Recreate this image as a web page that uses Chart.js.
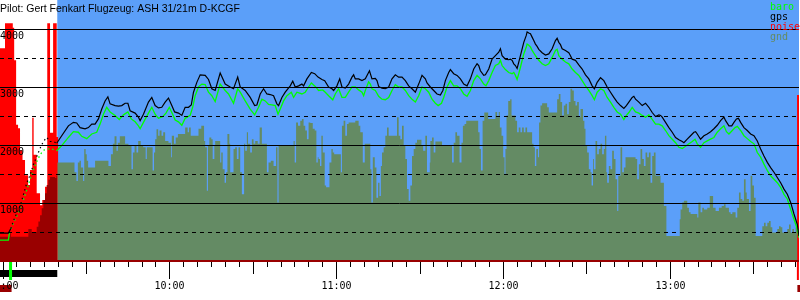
<!DOCTYPE html>
<html>
<head>
<meta charset="utf-8">
<script src="https://cdn.jsdelivr.net/npm/chart.js@4.4.0/dist/chart.umd.min.js"></script>
<style>
    html, body { margin: 0; padding: 0; background: #fff; }
</style>
</head>
<body>
<canvas id="myChart" width="800" height="300"></canvas>
<script>
// Barogram, time in minutes after 9:00, altitude in m
const title = 'Pilot: Gert Fenkart Flugzeug: ASH 31/21m D-KCGF';

const xMin = -0.9, xMax = 286.5;
const motorEnd = 19.7;     // end of engine run, gliding starts
const climbStart = 2.2;
const takeoffT = 2.9;
const landingT = 286.1;

const hourLabels = ['09:00', '10:00', '11:00', '12:00', '13:00'];
const yLabels = [1000, 2000, 3000, 4000];

const gpsT = [-0.9, 2.1, 3.0, 3.9, 5.1, 6.3, 7.5, 8.7, 9.9, 11.1, 12.3, 13.5, 14.7, 15.9, 17.1, 18.3, 19.5,
    21.3, 23.7, 25.5, 26.7, 27.9, 29.7, 30.9, 32.1, 33.3, 34.5, 35.7, 36.9, 37.9, 38.7, 40.5, 41.7, 42.9, 44.1,
    45.1, 45.9, 47.7, 48.9, 49.5, 50.7, 52.5, 53.7, 54.9, 56.1, 57.3, 58.5, 59.7, 60.9, 61.9, 63.3, 64.5, 65.7,
    66.9, 67.9, 68.7, 69.9, 71.1, 72.9,
    74.1, 75.3, 76.5, 78.3, 80.1, 81.9, 83.1, 84.6, 85.5, 87.3, 89.1, 90.7, 91.5, 92.7, 93.9, 95.1, 96.3, 97.5,
    98.7, 99.3, 100.5, 101.7, 103.5, 104.4, 105.3, 106.5, 107.7, 108.3, 109.5, 111.1, 112.3, 113.5, 114.9, 115.9,
    117.3, 118.5, 119.1, 120.3, 121.3, 122.1, 123.3, 124.5, 125.7, 126.3, 126.9,
    128.1, 129.3, 130.5, 132.0, 132.9, 134.1, 134.7, 135.3, 136.5, 137.7, 138.9, 140.1, 141.3, 142.5, 143.7,
    144.9, 146.1, 147.3, 148.5, 149.7, 150.9, 152.1, 152.7, 153.9, 155.1, 156.3, 157.5, 158.4, 159.3, 160.5,
    161.1, 162.3, 163.5, 164.7, 165.9, 167.1, 168.3, 169.5, 170.7, 171.3, 171.9, 173.1, 173.7, 174.9, 176.1,
    177.3, 178.5, 179.1, 179.7, 180.9,
    182.1, 182.7, 183.3, 183.9, 184.5, 185.1, 185.7, 186.3, 187.5, 188.4, 188.7, 189.3, 189.9, 190.5, 191.1,
    191.7, 192.3, 192.9, 194.1, 195.3, 196.5, 197.7, 198.9, 199.5, 200.1, 200.7, 201.3, 202.5, 203.7, 204.3,
    204.9, 206.1, 207.3, 208.5, 209.7, 210.9, 212.1, 212.9, 213.9, 215.1, 216.3, 217.5, 218.7, 219.9, 221.1,
    222.3, 223.5, 224.4, 225.3, 226.5, 227.1, 227.7, 228.9, 230.1, 231.3, 232.5, 233.7, 234.9,
    236.1, 236.7, 237.3, 238.5, 239.7, 240.9, 242.1, 243.3, 244.5, 245.1, 246.3, 247.5, 248.7, 249.3, 249.9,
    251.1, 252.3, 253.5, 254.7, 255.9, 257.1, 258.3, 259.5, 260.1, 261.3, 262.3, 263.1, 264.0, 264.7, 265.5,
    266.7, 267.9, 269.1, 270.3, 271.5, 272.7, 273.9, 275.1, 276.3, 277.5, 278.7, 279.9, 281.1, 282.3, 283.5,
    284.7, 285.9, 286.5];
const gpsAlt = [480, 480, 560, 690, 820, 940, 1140, 1340, 1480, 1660, 1800, 1940, 2060, 2130, 2060, 2060, 2030,
    2160, 2330, 2390, 2380, 2300, 2280, 2300, 2360, 2360, 2450, 2620, 2760, 2830, 2710, 2680, 2670, 2680, 2720,
    2720, 2590, 2550, 2480, 2420, 2530, 2740, 2820, 2680, 2640, 2650, 2740, 2810, 2680, 2570, 2550, 2510, 2650,
    2650, 2690, 2910, 3080, 3210, 3200,
    3130, 2970, 2940, 3240, 3050, 3000, 2970, 3170, 3000, 2940, 2820, 2680, 2690, 2880, 2970, 2880, 2870, 2850,
    2710, 2680, 2820, 2910, 3020, 3100, 3000, 3020, 3050, 3020, 3140, 3250, 3230, 3170, 3130, 3110,
    3000, 2970, 2940, 3020, 3140, 3000, 2980, 3050, 3170, 3210, 3140,
    3140, 3110, 3140, 3280, 3140, 3150, 3110, 3010, 2980, 2970, 3000, 3140, 3210, 3170, 3170,
    3110, 3020, 2970, 2910, 3050, 3200, 3140, 3070, 3000, 2940, 2880, 2860, 2940, 3110, 3250,
    3300, 3230, 3200, 3140, 3050, 3020, 3140, 3310, 3400, 3370, 3280, 3200, 3210, 3310, 3480,
    3540, 3600, 3660, 3540, 3480,
    3470, 3480, 3460, 3400, 3370, 3320, 3430, 3540, 3770, 3890, 3950, 3930, 3920, 3860, 3800,
    3740, 3700, 3650, 3590, 3550, 3570, 3660, 3800, 3840, 3770, 3730, 3660, 3630, 3590, 3540,
    3480, 3460, 3380, 3310, 3210, 3140, 3020, 2970, 3080, 3160, 3110, 3000, 2910, 2820, 2740,
    2680, 2630, 2680, 2740, 2820, 2840, 2790, 2740, 2680, 2720, 2650, 2560, 2490,
    2520, 2510, 2480, 2390, 2300, 2220, 2130, 2090, 2060, 2040, 2100, 2160, 2220, 2230, 2190,
    2100, 2160, 2190, 2230, 2280, 2340, 2420, 2480, 2420, 2330, 2330, 2390, 2450, 2460, 2390,
    2300, 2250, 2190, 2160, 2070, 1930, 1810, 1700, 1610, 1530, 1440, 1350, 1240, 1150, 1010,
    810, 630, 430];

const baroT = [-0.9, 2.1, 2.5, 3.9, 5.7, 7.5, 8.7, 9.9, 11.1, 12.3, 13.5, 14.7, 17.1, 19.5,
    21.3, 23.7, 25.5, 27.3, 28.5, 30.3, 32.1, 33.9, 35.1, 36.3, 37.5, 38.7, 40.5, 42.0, 43.5, 45.1, 46.3, 47.7,
    48.9, 49.5, 50.7, 52.5, 53.7, 54.9, 56.1, 57.6, 58.8, 60.0, 61.2, 62.1, 63.3, 64.5, 65.7, 67.5, 68.4, 69.3,
    70.5, 71.7, 72.9,
    74.1, 75.3, 76.5, 78.3, 80.1, 81.3, 83.1, 84.6, 85.5, 87.3, 89.1, 90.7, 92.1, 93.3, 94.5, 95.7, 96.9, 98.1,
    99.1, 99.9, 101.1, 102.3, 103.9, 104.7, 105.9, 107.7, 108.9, 110.1, 111.1, 112.5, 113.7, 115.2, 116.1, 117.3,
    118.8, 119.7, 120.9, 122.1, 123.3, 124.5, 125.7, 126.9,
    128.1, 129.3, 129.9, 130.5, 131.7, 132.3, 132.9, 134.1, 135.3, 136.5, 137.7, 138.9, 140.1, 141.3, 142.5,
    143.7, 144.9, 146.1, 147.3, 148.5, 149.7, 150.9, 152.1, 153.3, 154.5, 155.7, 156.7, 157.9, 158.7, 159.9,
    161.1, 162.3, 163.5, 164.7, 165.9, 167.1, 168.3, 169.5, 170.7, 171.9, 173.1, 173.9, 174.9, 176.1, 177.3,
    178.5, 179.1, 179.7, 180.9,
    182.1, 183.3, 183.9, 184.5, 185.1, 185.7, 186.3, 187.5, 188.4, 188.7, 189.3, 189.9, 190.5, 191.7, 192.9,
    194.1, 195.3, 196.5, 197.7, 198.9, 199.5, 200.1, 201.3, 202.5, 203.7, 204.9, 206.1, 207.3, 208.5, 209.7,
    210.9, 212.1, 212.9, 213.9, 215.1, 216.3, 217.5, 218.7, 219.9, 221.1, 222.3, 223.5, 224.4, 225.3, 226.5,
    227.7, 228.9, 230.1, 231.3, 232.5, 233.7, 234.9,
    236.1, 237.3, 238.5, 239.7, 240.9, 242.1, 243.3, 244.5, 245.7, 246.9, 248.1, 249.1, 249.9, 251.1, 252.3,
    253.5, 254.7, 255.9, 257.1, 258.3, 259.5, 260.4, 261.3, 262.5, 263.5, 264.3, 265.5, 266.7, 267.9, 269.1,
    270.3, 271.5, 272.7, 273.9, 275.1, 276.3, 277.5, 278.7, 279.9, 281.1, 282.3, 283.5, 284.7, 285.9, 286.5];
const baroAlt = [360, 360, 480, 655, 830, 1050, 1220, 1400, 1570, 1710, 1830, 1910, 1940, 1900,
    1990, 2130, 2230, 2220, 2150, 2110, 2190, 2220, 2360, 2530, 2650, 2570, 2510, 2440, 2520, 2570, 2450, 2400,
    2330, 2280, 2390, 2550, 2650, 2530, 2460, 2490, 2550, 2650, 2530, 2430, 2400, 2340, 2460, 2510, 2650, 2850,
    3000, 3050, 3040,
    2910, 2850, 2750, 3050, 2940, 2880, 2720, 2970, 2910, 2760, 2620, 2520, 2650, 2790, 2760, 2700, 2690, 2680,
    2530, 2620, 2760, 2850, 2910, 2820, 2910, 2880, 2910, 3000, 3070, 3010, 2940, 2950, 2910, 2850,
    2780, 2880, 2970, 2820, 2820, 2910, 3000, 3000,
    2950, 2910, 2850, 2940, 3090, 3050, 2970, 2940, 2840, 2790, 2780, 2820, 2940, 3040, 3000,
    3000, 2940, 2850, 2790, 2740, 2850, 3000, 2970, 2910, 2790, 2720, 2680, 2720, 2820, 3000,
    3110, 3020, 3020, 2970, 2880, 2840, 2940, 3110, 3200, 3140, 3050, 3020, 3110, 3250, 3370,
    3400, 3460, 3370, 3300,
    3250, 3230, 3250, 3200, 3130, 3230, 3340, 3570, 3690, 3740, 3720, 3690, 3630, 3540, 3460,
    3400, 3370, 3400, 3510, 3630, 3650, 3540, 3480, 3430, 3400, 3310, 3250, 3200, 3110, 3020,
    2940, 2850, 2780, 2910, 2970, 2940, 2820, 2740, 2650, 2570, 2530, 2440, 2510, 2560, 2650,
    2570, 2550, 2510, 2480, 2520, 2440, 2360,
    2360, 2330, 2250, 2160, 2100, 2040, 1960, 1940, 1980, 2020, 2060, 2100, 2020, 1960, 2040,
    2070, 2100, 2130, 2220, 2280, 2330, 2230, 2190, 2250, 2300, 2320, 2250, 2160, 2110, 2060,
    2020, 1870, 1790, 1670, 1560, 1470, 1410, 1350, 1270, 1150, 1070, 890, 720, 550, 400];

// ground elevation below the flight path (each value holds until the next time)
const gndT = [-0.9, 2.5, 3.0, 9.3, 10.5, 12.3, 12.9, 13.5, 14.1, 14.7, 15.3, 15.9, 16.5, 17.1, 18.9, 19.4,
    19.7, 25.9, 26.6, 27.1, 27.7, 28.2, 29.0, 29.4, 29.9, 30.3, 30.8, 33.3, 38.1, 39.0, 39.7, 40.3, 41.0, 41.5,
    42.2, 44.1, 45.3, 46.4, 46.9, 47.5, 48.2, 48.8, 49.7, 50.6, 51.5, 51.9, 54.0, 54.5, 54.9, 55.4, 56.0, 56.5,
    57.2, 57.8, 58.5, 59.7, 60.6, 60.9, 61.7, 62.3, 63.1, 65.7, 66.6, 67.1, 67.7, 70.5, 71.5, 72.5,
    72.9, 73.5, 73.9, 74.4, 75.1, 75.6, 76.2, 76.5, 78.3, 78.7, 79.2, 79.9, 80.4, 80.9, 81.6, 81.9, 83.1, 83.7,
    84.3, 84.9, 85.5, 86.1, 86.9, 87.3, 87.9, 88.3, 89.1, 89.7, 90.3, 90.9, 91.8, 92.5, 93.3, 95.1, 95.7, 96.5,
    97.5, 98.4, 98.9, 99.3, 104.7, 105.1, 105.6, 106.3, 107.1, 107.7, 108.3, 108.9, 109.5, 110.1, 110.7, 111.6,
    112.3, 112.9, 113.4, 113.7, 114.2, 114.7, 115.2, 115.9, 116.4, 117.6, 118.3, 118.8, 119.3, 121.7, 122.1,
    122.7, 123.3, 123.9, 124.5,
    126.9, 128.1, 128.7, 129.6, 130.3, 132.3, 132.7, 133.2, 133.9, 134.5, 135.1, 135.6, 136.1, 136.5, 137.1,
    137.7, 138.3, 138.9, 141.9, 142.5, 143.1, 143.7, 144.3, 144.9, 145.5, 146.1, 146.7, 147.3, 147.9, 148.5,
    149.1, 150.7, 151.3, 152.1, 152.7, 153.7, 153.9, 154.5, 155.1, 155.7, 158.1, 161.1, 161.7, 162.3, 162.9,
    163.5, 164.4, 165.1, 165.6, 166.2, 166.8, 171.1, 171.6, 172.1, 172.7, 173.3, 174.7, 177.3, 177.9, 178.5,
    178.9, 179.5, 180.1, 180.6,
    180.9, 181.3, 181.9, 182.6, 183.1, 184.5, 185.1, 185.7, 186.3, 186.9, 187.5, 188.1, 188.7, 190.5, 191.0,
    191.5, 192.0, 192.6, 193.0, 193.5, 194.1, 195.9, 196.5, 199.5, 200.1, 200.7, 201.3, 201.9, 202.5, 203.1,
    203.7, 204.3, 204.9, 205.5, 206.1, 206.7, 207.3, 207.9, 208.8, 209.3, 209.7, 210.3, 210.9, 211.5, 211.9,
    212.4, 212.7, 213.3, 213.9, 214.5, 215.1, 215.7, 216.3, 216.7, 217.2, 217.5, 218.1, 218.7, 219.3, 219.9,
    220.5, 221.1, 221.5, 222.3, 222.9, 223.5, 224.1, 227.7, 228.3, 228.9, 229.5, 230.1, 230.7, 231.3, 231.9,
    232.5, 233.1, 233.7, 234.3,
    234.9, 236.7, 237.9, 238.8, 243.6, 243.9, 244.5, 245.1, 246.3, 246.9, 247.5, 249.9, 250.3, 251.1, 251.7,
    252.3, 253.5, 254.4, 255.6, 256.5, 257.7, 258.7, 259.5, 260.1, 261.3, 261.9, 262.5, 263.7, 264.3, 264.9,
    265.5, 266.1, 266.7, 267.3, 267.7, 268.5, 269.1, 269.7, 270.3, 270.9, 273.3, 273.9, 274.5, 275.1, 275.7,
    276.3, 276.9, 278.7, 279.3, 279.9, 280.5, 282.3, 282.9, 283.5, 284.1, 284.7, 285.3, 285.9];
const gndAlt = [420, 480, 420, 550, 500, 590, 680, 790, 910, 1050, 1170, 1310, 1400, 1450, 1430, 1470,
    1700, 1530, 1380, 1700, 1730, 1610, 1380, 1930, 1840, 1730, 1610, 1730, 1640, 1840, 2020, 2150, 1900, 2040,
    2150, 2020, 1990, 1580, 1870, 1990, 1870, 2070, 1990, 1960, 1760, 1960, 1560, 1870, 2100, 2270, 2160, 2250,
    2160, 2220, 2070, 2040, 1790, 2160, 2020, 2130, 2190, 2300, 2220, 2300, 2160, 2280, 2330, 2070,
    1960, 1210, 1990, 2130, 2100, 1760, 1990, 2070, 1700, 1870, 1580, 1350, 1530, 2190, 2020, 1530, 1930, 1960,
    1760, 1960, 1530, 1150, 2020, 1900, 2220, 2020, 1870, 2100, 2020, 2070, 2020, 2300, 2020, 1530, 1700, 1730,
    1640, 1960, 1010, 2000, 2070, 1700, 2390, 2330, 2420, 2450, 2330, 2250, 2100, 2390, 2380, 2280,
    2250, 1700, 1790, 1760, 1640, 2160, 1870, 1300, 1270, 1700, 1930, 1870, 1840, 1530, 2330,
    2420, 2160, 2360, 2390,
    2420, 2330, 2220, 1700, 2020, 1580, 1010, 1790, 1610, 1090, 1350, 1120, 1640, 1870, 1960,
    2160, 2300, 2160, 2480, 2160, 2100, 2330, 1990, 1760, 1240, 1040, 1300, 1810, 1930, 2040,
    2090, 1990, 1900, 2160, 1530, 1700, 2070, 2130, 1870, 2060, 2000, 1990, 1700, 2040, 2220,
    2160, 1700, 2040, 2330, 2360, 2420, 2220, 1930, 1560, 2420, 2560, 2450, 2570, 2480, 2570,
    2300, 2160, 1790, 1500,
    1930, 2510, 2760, 2790, 2510, 2420, 2220, 2300, 2220, 2300, 2220, 2300, 2220, 2020, 1960,
    1640, 1930, 1790, 2390, 2680, 2720, 2650, 2560, 2790, 2880, 2740, 2510, 2680, 2710, 2530,
    2740, 2970, 2940, 2760, 2680, 2740, 2480, 2620, 2420, 2280, 1990, 1870, 1580, 1530, 1300,
    1760, 1580, 2070, 1840, 1930, 2020, 1840, 1930, 2160, 1530, 1350, 1640, 1580, 1900, 1760,
    1410, 860, 1470, 1960, 1530, 1610, 1790, 1760, 1410, 1670, 1930, 1760, 1640, 1870, 1790,
    1870, 1350, 1810, 1870,
    1470, 1350, 950, 430, 720, 890, 1010, 1040, 920, 840, 810, 750, 1010, 840, 920,
    890, 920, 1120, 920, 860, 920, 950, 980, 920, 840, 810, 840, 750, 920, 1180,
    1070, 1040, 1410, 1180, 1070, 860, 1470, 1300, 1090, 430, 600, 660, 600, 660, 690,
    580, 490, 550, 600, 580, 490, 550, 630, 490, 550, 490, 580, 370];

// engine noise level, drawn on the altitude axis
const noiseT = [-0.9, 0.9, 3.7, 4.2, 4.9, 5.6, 6.3, 7.2, 8.1, 9.2, 9.9, 10.7, 11.2, 12.3, 13.5, 14.3, 15.3,
    16.1, 17.1, 18.2, 19.5, 20.0, 101.4, 101.8, 104.5, 104.9, 130.8, 131.2, 140.4, 140.8, 281.7, 282.1,
    285.8, 286.5];
const noiseVal = [3670, 4100, 4020, 3460, 2350, 2290, 1910, 1740, 1480, 1310, 1570, 2470, 1830, 1170, 960, 1050, 1280,
    4100, 2210, 4100, 2140, 0, 30, 0, 50, 0, 40, 0, 75, 0, 40, 0,
    2860, 2860];

const colBaro = '#00ff00';
const colGps = '#000000';
const colNoise = '#ff0000';
const colGnd = '#648b64';
const colGndMotor = '#990000';
const colSky = '#5b9ff9';

function pts(ts, vs, keep) {
    const out = [];
    for (let i = 0; i < ts.length; i++) {
        if (!keep || keep(ts[i])) out.push({x: ts[i], y: vs[i]});
    }
    return out;
}

const climbDash = ctx => (ctx.p0.parsed.x >= climbStart && ctx.p1.parsed.x <= motorEnd) ? [1.5, 3] : undefined;

const decorations = {
    id: 'decorations',
    beforeDatasetsDraw(chart) {
        const {ctx, chartArea: a, scales: {x}} = chart;
        const x0 = x.getPixelForValue(motorEnd);
        ctx.save();
        ctx.fillStyle = colSky;
        ctx.fillRect(x0, a.top, a.right - x0, a.bottom - a.top);
        ctx.restore();
    },
    afterDraw(chart) {
        const {ctx, chartArea: a, scales: {x, y}} = chart;
        ctx.save();

        // baseline
        ctx.fillStyle = colGndMotor;
        ctx.fillRect(a.left, a.bottom - 1, a.right - a.left, 2);

        // time ticks every 5 minutes
        ctx.strokeStyle = '#000';
        ctx.lineWidth = 1;
        ctx.beginPath();
        for (let t = 0; t <= xMax; t += 5) {
            const px = Math.round(x.getPixelForValue(t)) + 0.5;
            const len = t % 60 === 0 ? 18 : (t % 30 === 0 ? 13 : 6);
            ctx.moveTo(px, a.bottom + 1);
            ctx.lineTo(px, a.bottom + len);
        }
        ctx.stroke();

        // engine run / takeoff / landing marks
        const xm0 = x.getPixelForValue(xMin), xm1 = x.getPixelForValue(motorEnd);
        ctx.fillStyle = '#000';
        ctx.fillRect(xm0, a.bottom + 9, xm1 - xm0, 7);
        ctx.fillStyle = colBaro;
        ctx.fillRect(x.getPixelForValue(takeoffT) - 1.5, a.bottom + 1, 3, 18);
        ctx.fillStyle = colNoise;
        ctx.fillRect(x.getPixelForValue(landingT) - 1, a.bottom + 1, 2, 18);
        ctx.fillStyle = colGndMotor;
        ctx.fillRect(xm0, a.bottom + 24, x.getPixelForValue(takeoffT) - xm0 + 1, 7);
        ctx.fillRect(x.getPixelForValue(landingT) - 0.5, a.bottom + 24, 3, 7);

        // hour labels
        ctx.font = '10px "DejaVu Sans Mono"';
        ctx.fillStyle = '#000';
        ctx.textAlign = 'center';
        ctx.textBaseline = 'alphabetic';
        hourLabels.forEach((lab, i) => {
            ctx.fillText(lab, Math.round(x.getPixelForValue(i * 60)) + 0.5, a.bottom + 28);
        });

        // altitude labels
        ctx.textAlign = 'left';
        yLabels.forEach(v => {
            ctx.fillText(String(v), a.left, y.getPixelForValue(v) + 10);
        });

        // legend
        const items = [['baro', colBaro], ['gps', colGps], ['noise', colNoise], ['gnd', colGnd]];
        items.forEach(([lab, col], i) => {
            ctx.fillStyle = col;
            ctx.fillText(lab, 770, 10 + i * 10);
        });

        // title
        ctx.fillStyle = '#000';
        ctx.font = '10.5px "Liberation Sans"';
        ctx.fillText(title, 0, 12);
        ctx.restore();
    }
};

new Chart(document.getElementById('myChart'), {
    type: 'line',
    data: {
        datasets: [
            {
                label: 'gps',
                data: pts(gpsT, gpsAlt),
                borderColor: colGps,
                borderWidth: 1.2,
                pointRadius: 0,
                fill: false,
                order: 0,
                segment: {borderDash: climbDash}
            },
            {
                label: 'baro',
                data: pts(baroT, baroAlt),
                borderColor: colBaro,
                borderWidth: 1.3,
                pointRadius: 0,
                fill: false,
                order: 1,
                segment: {borderDash: climbDash}
            },
            {
                label: 'gnd motor',
                data: pts(gndT, gndAlt, t => t <= motorEnd),
                borderWidth: 0,
                borderColor: 'rgba(0,0,0,0)',
                backgroundColor: colGndMotor,
                pointRadius: 0,
                stepped: true,
                fill: 'origin',
                order: 2
            },
            {
                label: 'gnd',
                data: pts(gndT, gndAlt, t => t >= motorEnd),
                borderWidth: 0,
                borderColor: 'rgba(0,0,0,0)',
                backgroundColor: colGnd,
                pointRadius: 0,
                stepped: true,
                fill: 'origin',
                order: 3
            },
            {
                label: 'noise',
                data: pts(noiseT, noiseVal),
                borderWidth: 0,
                borderColor: 'rgba(0,0,0,0)',
                backgroundColor: colNoise,
                pointRadius: 0,
                stepped: true,
                fill: 'origin',
                order: 4
            }
        ]
    },
    options: {
        responsive: false,
        animation: false,
        layout: {padding: {left: 0, right: 1, top: 0, bottom: 39}},
        plugins: {
            legend: {display: false},
            tooltip: {enabled: false}
        },
        scales: {
            x: {type: 'linear', min: xMin, max: xMax, display: false},
            y: {
                min: 0,
                max: 4500,
                ticks: {display: false, stepSize: 500},
                grid: {
                    z: 1,
                    drawTicks: false,
                    lineWidth: 1,
                    color: ctx => (ctx.tick && (ctx.tick.value === 0 || ctx.tick.value === 4500)) ? 'rgba(0,0,0,0)' : '#000'
                },
                border: {
                    display: false,
                    dash: ctx => (ctx.tick && ctx.tick.value % 1000 !== 0) ? [4, 4] : []
                }
            }
        }
    },
    plugins: [decorations]
});
</script>
</body>
</html>
